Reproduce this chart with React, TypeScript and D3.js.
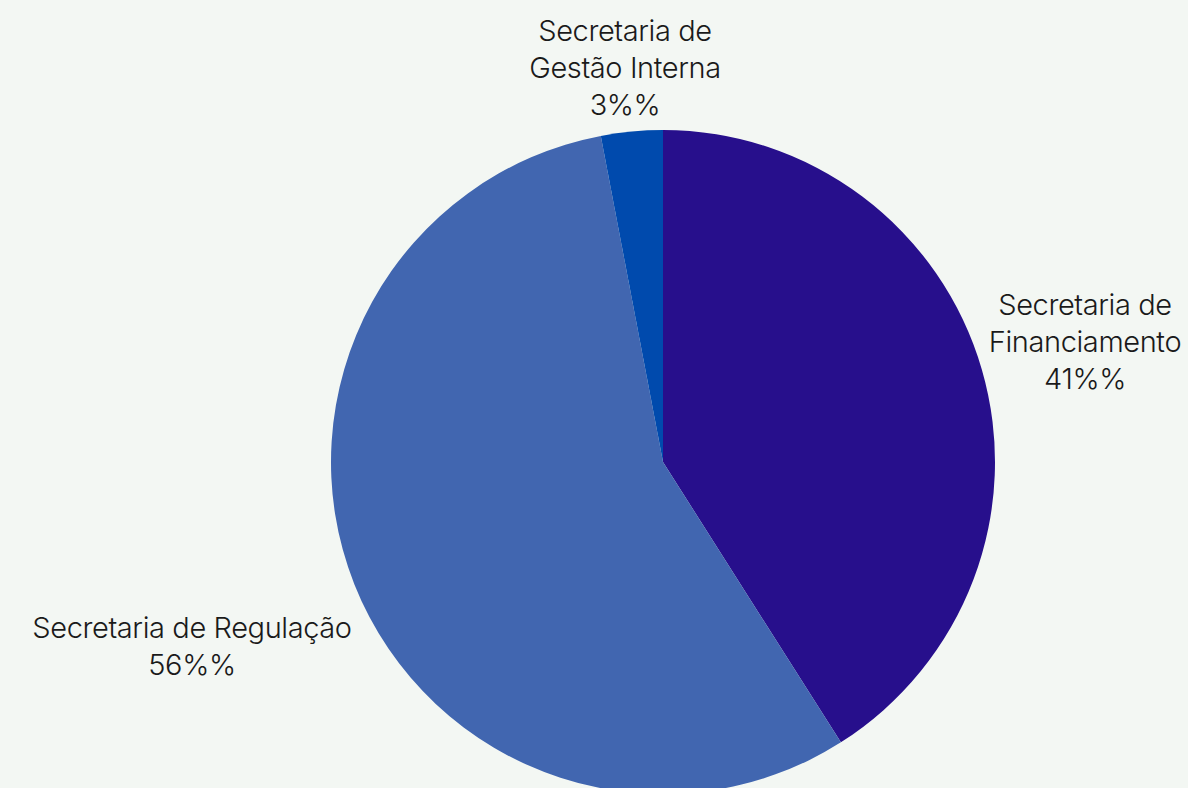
import React from "react";
import * as d3 from "d3";

const categories = ["Secretaria de Financiamento", "Secretaria de Regulação", "Secretaria de Gestão Interna"];
const values = [41, 56, 3];
const colors = ["#270F8C", "#4166B0", "#004AAD"];
const labelLines = [
  ["Secretaria de", "Financiamento", "41%%"],
  ["Secretaria de Regulação", "56%%"],
  ["Secretaria de", "Gestão Interna", "3%%"],
];
const labelAnchors: [number, number][] = [
  [1085, 315],
  [192, 638],
  [625, 41],
];

const W = 1188;
const H = 788;
const cx = 663;
const cy = 462;
const R = 332;

export default function App() {
  const data = categories.map((c, i) => ({ c, v: values[i], i }));
  const pie = d3.pie<any>().sort(null).value((d) => d.v);
  const arc = d3.arc<any>().innerRadius(0).outerRadius(R);
  const arcs = pie(data);
  return (
    <svg
      width={W}
      height={H}
      style={{ position: "absolute", left: 0, top: 0, background: "#F3F7F3" }}
    >
      <rect x={0} y={0} width={W} height={H} fill="#F3F7F3" />
      <g transform={`translate(${cx},${cy})`}>
        {arcs.map((a, i) => (
          <path key={i} d={arc(a) as string} fill={colors[i]} />
        ))}
      </g>
      {labelLines.map((lines, i) => (
        <text
          key={i}
          x={labelAnchors[i][0]}
          y={labelAnchors[i][1]}
          textAnchor="middle"
          fontFamily="Inter, 'Noto Sans', sans-serif"
          fontWeight={300}
          fontSize={29}
          letterSpacing={-0.4}
          fill="#1a1a1a"
        >
          {lines.map((l, j) => (
            <tspan key={j} x={labelAnchors[i][0]} dy={j === 0 ? 0 : 37}>
              {l}
            </tspan>
          ))}
        </text>
      ))}
    </svg>
  );
}
